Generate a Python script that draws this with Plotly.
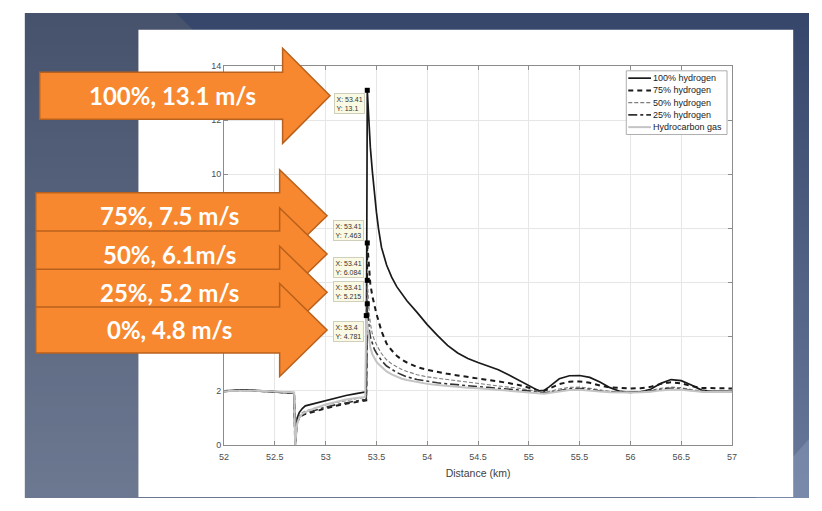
import base64
import plotly.graph_objects as go

# ---------------- data ----------------
distance_km = [52.0, 52.1, 52.2, 52.3, 52.4, 52.5, 52.6, 52.69,
               52.70, 52.71, 52.72, 52.74, 52.77, 52.8, 52.85, 52.9,
               53.0, 53.1, 53.2, 53.3, 53.39, 53.4,
               53.41, 53.42, 53.43, 53.44, 53.46, 53.48, 53.5, 53.52,
               53.55, 53.6, 53.65, 53.7, 53.75, 53.8, 53.9, 54.0,
               54.1, 54.2, 54.3, 54.4, 54.5, 54.6, 54.7, 54.8,
               54.9, 55.0, 55.1, 55.15, 55.2, 55.3, 55.4, 55.5,
               55.6, 55.7, 55.8, 55.9, 56.0, 56.1, 56.2, 56.3,
               56.4, 56.5, 56.6, 56.7, 56.8, 56.9, 57.0]

h2_100 = [2.00, 2.02, 2.04, 2.02, 2.00, 1.98, 1.96, 1.93,
          0.0, 0.7, 1.0, 1.2, 1.35, 1.45, 1.5, 1.55,
          1.65, 1.74, 1.83, 1.9, 1.96, 1.97,
          13.1, 12.3, 11.6, 11.0, 10.1, 9.3, 8.6, 8.0,
          7.3, 6.65, 6.2, 5.85, 5.58, 5.33, 4.9, 4.45,
          4.05, 3.68, 3.4, 3.2, 3.05, 2.92, 2.78, 2.6,
          2.4, 2.2, 2.0, 2.02, 2.15, 2.45, 2.56, 2.57,
          2.5, 2.33, 2.12, 1.98, 1.95, 1.97, 2.06, 2.28,
          2.42, 2.38, 2.22, 2.03, 1.98, 1.98, 1.98]

h2_75 = [1.99, 2.01, 2.03, 2.01, 1.99, 1.97, 1.95, 1.92,
         0.0, 0.6, 0.85, 1.0, 1.1, 1.15, 1.2, 1.27,
         1.36, 1.45, 1.53, 1.6, 1.64, 1.65,
         7.463, 6.8, 6.3, 5.95, 5.5, 5.15, 4.85, 4.6,
         4.2, 3.75, 3.5, 3.3, 3.15, 3.05, 2.88, 2.78,
         2.7, 2.63, 2.57, 2.52, 2.46, 2.4, 2.35, 2.29,
         2.22, 2.12, 2.01, 2.0, 2.08, 2.25, 2.34, 2.35,
         2.3, 2.2, 2.13, 2.1, 2.09, 2.1, 2.15, 2.26,
         2.32, 2.28, 2.18, 2.11, 2.1, 2.09, 2.09]

h2_50 = [2.0, 2.02, 2.03, 2.02, 2.0, 1.98, 1.96, 1.93,
         0.0, 0.6, 0.9, 1.08, 1.2, 1.26, 1.32, 1.38,
         1.48, 1.57, 1.65, 1.71, 1.76, 1.77,
         6.084, 5.3, 4.85, 4.5, 4.1, 3.88, 3.7, 3.57,
         3.38, 3.15, 3.0, 2.88, 2.79, 2.72, 2.6, 2.52,
         2.46, 2.42, 2.37, 2.32, 2.27, 2.22, 2.18, 2.14,
         2.1, 2.04, 1.97, 1.95, 1.98, 2.07, 2.13, 2.14,
         2.1, 2.03, 1.98, 1.97, 1.97, 1.98, 2.02, 2.1,
         2.14, 2.12, 2.05, 2.0, 1.99, 1.99, 1.99]

h2_25 = [1.98, 2.0, 2.02, 2.0, 1.98, 1.96, 1.95, 1.92,
         0.0, 0.6, 0.85, 1.02, 1.12, 1.18, 1.24, 1.3,
         1.4, 1.49, 1.57, 1.63, 1.68, 1.69,
         5.215, 4.6, 4.25, 4.0, 3.72, 3.53, 3.4, 3.28,
         3.12, 2.92, 2.79, 2.68, 2.6, 2.52, 2.42, 2.35,
         2.3, 2.26, 2.22, 2.19, 2.16, 2.13, 2.1, 2.07,
         2.04, 2.0, 1.94, 1.92, 1.94, 2.02, 2.08, 2.09,
         2.06, 2.0, 1.96, 1.95, 1.95, 1.96, 1.99, 2.06,
         2.1, 2.08, 2.02, 1.98, 1.97, 1.97, 1.97]

hydrocarbon = [2.0, 2.01, 2.02, 2.01, 2.0, 1.98, 1.96, 1.94,
               0.0, 0.5, 0.8, 1.0, 1.15, 1.22, 1.3, 1.37,
               1.5, 1.6, 1.68, 1.74, 1.78, 4.781,
               4.5, 4.1, 3.8, 3.6, 3.35, 3.2, 3.08, 2.99,
               2.88, 2.72, 2.61, 2.52, 2.45, 2.4, 2.32, 2.26,
               2.22, 2.18, 2.15, 2.12, 2.1, 2.07, 2.05, 2.02,
               2.0, 1.97, 1.92, 1.9, 1.92, 1.98, 2.03, 2.04,
               2.02, 1.98, 1.95, 1.94, 1.94, 1.95, 1.97, 2.02,
               2.05, 2.04, 2.0, 1.97, 1.96, 1.96, 1.96]

series_names = ["100% hydrogen", "75% hydrogen", "50% hydrogen", "25% hydrogen", "Hydrocarbon gas"]
series_values = [h2_100, h2_75, h2_50, h2_25, hydrocarbon]

tip_x = [53.41, 53.41, 53.41, 53.41, 53.4]
tip_y = [13.1, 7.463, 6.084, 5.215, 4.781]

arrow_labels = ["100%, 13.1 m/s", "75%, 7.5 m/s", "50%, 6.1m/s", "25%, 5.2 m/s", "0%, 4.8 m/s"]

x_ticks = [52, 52.5, 53, 53.5, 54, 54.5, 55, 55.5, 56, 56.5, 57]
y_ticks = [0, 2, 4, 6, 8, 10, 12, 14]
# labels 4, 6 and 8 sit underneath the orange arrows in the slide, so they are not shown
y_tick_text = ["0", "2", "", "", "", "10", "12", "14"]
x_label = "Distance (km)"

# ---------------- geometry helpers ----------------
# the page adds an 8px body margin, so the figure covers page pixels 8..814 x 8..503
OFF = 8
W, H = 806, 495
def px(x):
    return (x - OFF) / W
def py(y):
    return 1 - (y - OFF) / H

styles = [
    dict(color="#1a1a1a", width=1.7, dash="solid"),
    dict(color="#1a1a1a", width=2.0, dash="5px,4px"),
    dict(color="#7d7d7d", width=1.1, dash="4px,2px"),
    dict(color="#333333", width=1.6, dash="dashdot"),
    dict(color="#c4c4c4", width=2.0, dash="solid"),
]

fig = go.Figure()
for name, vals, st in zip(series_names, series_values, styles):
    fig.add_trace(go.Scatter(x=distance_km, y=vals, name=name, mode="lines",
                             line=dict(color=st["color"], width=st["width"], dash=st["dash"]),
                             hoverinfo="skip"))

fig.add_trace(go.Scatter(x=tip_x, y=tip_y, mode="markers",
                         marker=dict(symbol="square", size=5, color="black"),
                         hoverinfo="skip", showlegend=False))

# ---------------- background (slide) ----------------
svg = ('<svg xmlns="http://www.w3.org/2000/svg" width="806" height="495" viewBox="0 0 806 495">'
       '<defs><linearGradient id="g" x1="0" y1="0" x2="0" y2="1">'
       '<stop offset="0" stop-color="#36466a"/><stop offset="1" stop-color="#6a7b9e"/>'
       '</linearGradient></defs>'
       '<g transform="translate(-8,-8)">'
       '<rect x="0" y="0" width="830" height="520" fill="#ffffff"/>'
       '<rect x="20" y="7" width="810" height="513" fill="url(#g)"/>'
       '<polygon points="20,7 172,7 685,520 20,520" fill="#78786e" fill-opacity="0.25"/>'
       '<polygon points="830,425 830,520 745,520" fill="#9aaac6" fill-opacity="0.35"/>'
       '</g></svg>')
src = "data:image/svg+xml;base64," + base64.b64encode(svg.encode()).decode()

shapes = []
# white slide panel
shapes.append(dict(type="rect", xref="paper", yref="paper", layer="below",
                   x0=px(135), x1=px(798), y0=py(502), y1=py(25),
                   fillcolor="white", line=dict(width=0)))

# legend (MATLAB style box)
leg_l, leg_r, leg_t, leg_b = 629, 731, 67, 132
shapes.append(dict(type="rect", xref="paper", yref="paper", layer="above",
                   x0=px(leg_l), x1=px(leg_r), y0=py(leg_b), y1=py(leg_t),
                   fillcolor="white", line=dict(color="#9a9a9a", width=0.8)))
annotations = []
row_y = [74.5, 87, 99.5, 112, 124.5]
for name, st, ry in zip(series_names, styles, row_y):
    shapes.append(dict(type="line", xref="paper", yref="paper", layer="above",
                       x0=px(631), x1=px(654), y0=py(ry), y1=py(ry),
                       line=dict(color=st["color"], width=st["width"], dash=st["dash"])))
    annotations.append(dict(xref="paper", yref="paper", x=px(654), y=py(ry),
                            xanchor="left", yanchor="middle", showarrow=False,
                            text=name, font=dict(family="Liberation Sans, Arial", size=9, color="#222222")))

# orange arrows
arrow_geom = [
    (35, 281, 329, 92.5, 24, 48.5, 170),
    (31, 278, 326, 215, 23.5, 47, 166),
    (31, 278, 326, 254, 23.5, 47, 166),
    (31, 278, 326, 293, 23.5, 47, 166),
    (31, 278, 326, 331.5, 23.5, 47.5, 166),
]
for label, (bl, br, tx, cy, bh, hh, tcx) in zip(arrow_labels, arrow_geom):
    pts = [(bl, cy - bh), (br, cy - bh), (br, cy - hh), (tx, cy), (br, cy + hh), (br, cy + bh), (bl, cy + bh)]
    path = "M " + " L ".join(f"{px(a):.5f},{py(b):.5f}" for a, b in pts) + " Z"
    shapes.append(dict(type="path", xref="paper", yref="paper", layer="above", path=path,
                       fillcolor="#f7882f", line=dict(color="#b9601c", width=1.5)))
    annotations.append(dict(xref="paper", yref="paper", x=px(tcx), y=py(cy),
                            xanchor="center", yanchor="middle", showarrow=False,
                            text=f"<b>{label}</b>",
                            font=dict(family="Lato, Open Sans, sans-serif", size=24, color="white")))

# data tips
tip_pos = [(333, 90), (332, 219), (332, 257), (332, 282), (332, 322)]
for (tx, ty), (bx, by) in zip(zip(tip_x, tip_y), tip_pos):
    annotations.append(dict(xref="paper", yref="paper", x=px(bx), y=py(by),
                            xanchor="left", yanchor="top", showarrow=False, align="left",
                            text=f"X: {tx:g}<br>Y: {ty:g}",
                            bgcolor="#fafae4", bordercolor="#cfcfbc", borderwidth=1, borderpad=1.5,
                            font=dict(family="Liberation Sans, Arial", size=7, color="#333333")))

axis_common = dict(showgrid=True, gridcolor="#e6e6e6", gridwidth=1,
                   showline=True, linecolor="#8c8c8c", linewidth=1, mirror="ticks",
                   ticks="inside", ticklen=4, tickcolor="#8c8c8c", zeroline=False,
                   tickfont=dict(family="Liberation Sans, Arial", size=9, color="#4d4d4d"))

fig.update_layout(
    width=W, height=H, margin=dict(l=0, r=0, t=0, b=0),
    paper_bgcolor="white", plot_bgcolor="white", showlegend=False,
    images=[dict(source=src, xref="paper", yref="paper", x=0, y=1, sizex=1, sizey=1,
                 xanchor="left", yanchor="top", sizing="stretch", layer="below")],
    shapes=shapes, annotations=annotations,
    xaxis=dict(domain=[px(221.7), px(736)], range=[52, 57], tickvals=x_ticks,
               ticktext=[f"{v:g}" for v in x_ticks], ticklabelstandoff=3,
               title=dict(text=x_label, standoff=8,
                          font=dict(family="Liberation Sans, Arial", size=10.5, color="#404040")),
               **axis_common),
    yaxis=dict(domain=[py(449), py(62)], range=[0, 14], tickvals=y_ticks,
               ticktext=y_tick_text, **axis_common),
)

fig.write_html("out.html", config={"displayModeBar": False})
